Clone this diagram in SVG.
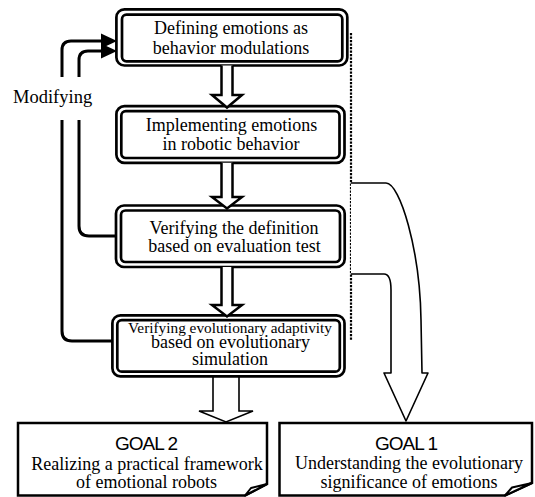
<svg xmlns="http://www.w3.org/2000/svg" width="535" height="497" viewBox="0 0 535 497">
<style>
  .ob { fill: #fff; stroke: #000; stroke-width: 2.7; }
  .ib { fill: none; stroke: #000; stroke-width: 2.7; }
  .t { font-family: "Liberation Serif", "Times New Roman", serif; font-size: 18px; fill: #000; text-anchor: middle; }
  .s { font-size: 15.5px; }
  .m { font-size: 18.5px; text-anchor: start; }
  .g { font-family: "Liberation Sans", Arial, sans-serif; font-size: 19px; letter-spacing: -1px; fill: #000; text-anchor: middle; }
  .harrow { fill: #fff; stroke: #000; stroke-width: 2.5; stroke-linejoin: miter; }
  .fb { fill: none; stroke: #000; stroke-width: 3; }
  .goal { fill: #fff; stroke: #000; stroke-width: 2.5; stroke-linejoin: miter; }
</style>
<rect width="535" height="497" fill="#fff"/>

<g id="connectors">
  <!-- arrow into GOAL 2 (drawn beneath box 4) -->
  <path d="M213,372 V411 H199 L226,422 L253,411 H239 V372" fill="#fff" stroke="#000" stroke-width="1.6"/>
  <!-- dotted separator -->
  <line x1="351" y1="33" x2="351" y2="340" stroke="#000" stroke-width="2.2" stroke-dasharray="2.2 1.3"/>
  <!-- big curved arrow to GOAL 1 -->
  <path d="M351,183 H386 C400,183 420,250 421,320 L422,373 H428 L406,421 L384,373 H391 V290 Q391,274 384,274 H351" fill="#fff" stroke="#000" stroke-width="1.6" stroke-linejoin="round"/>
  <!-- feedback lines -->
  <path class="fb" d="M113,341 H72 Q62,341 62,331 V120"/>
  <path class="fb" d="M62,77 V50 Q62,41 71,41 H103"/>
  <path class="fb" d="M116,236 H89 Q79,236 79,226 V120"/>
  <path class="fb" d="M79,77 V60 Q79,51 88,51 H103"/>
  <polygon points="101,33.5 117,41 101,48.5" fill="#000"/>
  <polygon points="101,43.5 117,51 101,58.5" fill="#000"/>
</g>

<g id="box1">
  <rect class="ob" x="116.4" y="9.3" width="230.9" height="56.2" rx="8"/>
  <rect class="ib" x="122" y="14.7" width="220.3" height="46.6" rx="4.5"/>
  <text class="t" x="231" y="33.5">Defining emotions as</text>
  <text class="t" x="231" y="54">behavior modulations</text>
</g>

<g id="box2">
  <rect class="ob" x="116.4" y="106.2" width="228.1" height="56.6" rx="8"/>
  <rect class="ib" x="121.3" y="111.2" width="218.2" height="46.8" rx="4.5"/>
  <text class="t" x="231.5" y="131">Implementing emotions</text>
  <text class="t" x="231" y="150">in robotic behavior</text>
</g>

<g id="box3">
  <rect class="ob" x="116" y="205.5" width="228.7" height="61.5" rx="8"/>
  <rect class="ib" x="121" y="210.5" width="219" height="51.5" rx="4.5"/>
  <text class="t" x="234" y="233.5">Verifying the definition</text>
  <text class="t" x="234.5" y="252">based on evaluation test</text>
</g>

<g id="box4">
  <rect class="ob" x="112.4" y="315.3" width="232.1" height="61" rx="8"/>
  <rect class="ib" x="117.3" y="320.2" width="222.5" height="51.5" rx="4.5"/>
  <text class="t s" x="230" y="332.5" textLength="204" lengthAdjust="spacingAndGlyphs">Verifying evolutionary adaptivity</text>
  <text class="t" x="230.5" y="348">based on evolutionary</text>
  <text class="t" x="230" y="365">simulation</text>
</g>

<g id="arrows">
  <path class="harrow" d="M221.5,65.5 V95 H212 L227,107.5 L242,95 H232.5 V65.5"/>
  <path class="harrow" d="M221.5,162.8 V197 H212 L227,208.5 L242,197 H232.5 V162.8"/>
  <path class="harrow" d="M221.5,267 V305 H212 L227,316.5 L242,305 H232.5 V267"/>
</g>

<g id="goal2">
  <path class="goal" d="M18,423 H267 V484 L245,495.5 H18 Z"/>
  <path d="M245,495.5 L251,488 L267,484 Z" fill="#fff" stroke="#000" stroke-width="2" stroke-linejoin="round"/>
  <text class="g" x="146" y="449.5">GOAL 2</text>
  <text class="t" x="147" y="470">Realizing a practical framework</text>
  <text class="t" x="146.5" y="488">of emotional robots</text>
</g>

<g id="goal1">
  <path class="goal" d="M279.5,423 H532 V483 L505,495.5 H279.5 Z"/>
  <path d="M505,495.5 L512,487.5 L532,483 Z" fill="#fff" stroke="#000" stroke-width="2" stroke-linejoin="round"/>
  <text class="g" x="406" y="449.5">GOAL 1</text>
  <text class="t" x="409" y="469">Understanding the evolutionary</text>
  <text class="t" x="409" y="487.5">significance of emotions</text>
</g>

<g id="label-modifying">
  <text class="t m" x="13" y="103">Modifying</text>
</g>
</svg>
